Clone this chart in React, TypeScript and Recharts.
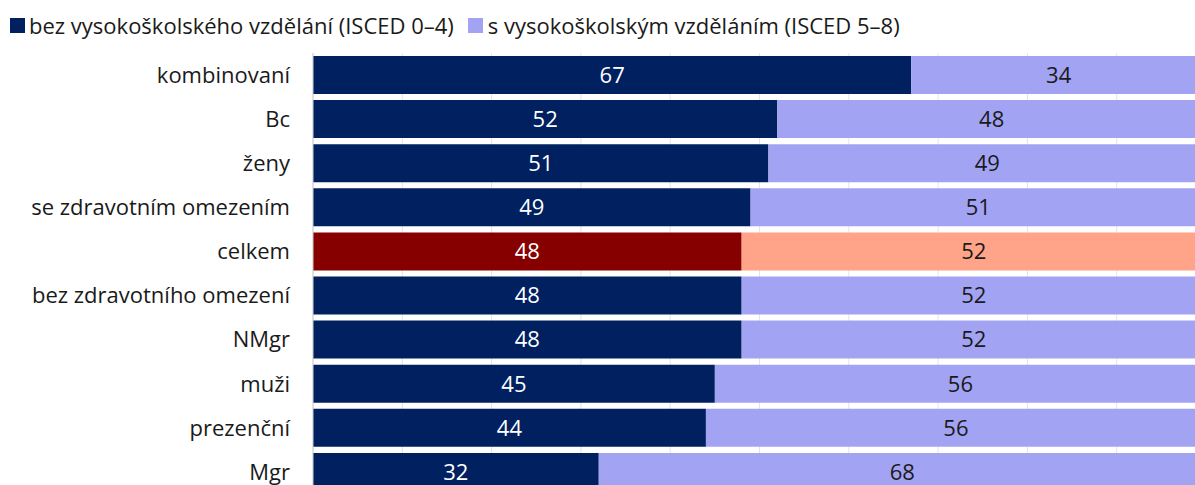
import { BarChart, Bar, XAxis, YAxis, CartesianGrid, Cell, LabelList } from 'recharts';

const categories = [
  'kombinovaní',
  'Bc',
  'ženy',
  'se zdravotním omezením',
  'celkem',
  'bez zdravotního omezení',
  'NMgr',
  'muži',
  'prezenční',
  'Mgr',
];
const withoutDegree = [67, 52, 51, 49, 48, 48, 48, 45, 44, 32];
const withDegree = [34, 48, 49, 51, 52, 52, 52, 56, 56, 68];
const xTicks = [0, 10, 20, 30, 40, 50, 60, 70, 80, 90, 100];

const seriesNames = {
  low: 'bez vysokoškolského vzdělání (ISCED 0–4)',
  high: 's vysokoškolským vzděláním (ISCED 5–8)',
};

const data = categories.map((name, i) => ({
  name,
  low: withoutDegree[i],
  high: withDegree[i],
}));

const FONT = '"Open Sans", sans-serif';
const NAVY = '#002060';
const LAVENDER = '#A3A3F3';
const DARK_RED = '#860000';
const SALMON = '#FFA488';

export default function App() {
  return (
    <div style={{ position: 'fixed', left: 0, top: 0, width: 1195, height: 485, overflow: 'hidden', background: '#fff' }}>
      {/* legend drawn as plain html so it doesn't push the plot down */}
      <div
        style={{
          position: 'absolute',
          left: 10,
          top: 10,
          display: 'flex',
          alignItems: 'center',
          fontFamily: FONT,
          fontSize: 22,
          color: '#1a1a1a',
          whiteSpace: 'nowrap',
        }}
      >
        <span style={{ width: 15, height: 15, background: NAVY, display: 'inline-block', marginRight: 4 }} />
        <span style={{ marginRight: 14 }}>{seriesNames.low}</span>
        <span style={{ width: 15, height: 15, background: LAVENDER, display: 'inline-block', marginRight: 5 }} />
        <span>{seriesNames.high}</span>
      </div>
      <BarChart
        width={1206}
        height={500}
        data={data}
        layout="vertical"
        margin={{ top: 53, right: 0, left: 0, bottom: 6 }}
      >
        <CartesianGrid horizontal={false} stroke="#e4e4e4" />
        <XAxis type="number" domain={[0, 100]} ticks={xTicks} allowDataOverflow hide />
        <YAxis
          type="category"
          dataKey="name"
          width={313}
          tickLine={false}
          tickSize={0}
          tickMargin={23}
          axisLine={{ stroke: '#d0d0d0' }}
          tick={{ fontFamily: FONT, fontSize: 22, fill: '#1a1a1a' }}
          interval={0}
        />
        <Bar dataKey="low" stackId="a" barSize={38} isAnimationActive={false}>
          {data.map((d, i) => (
            <Cell key={`low-${i}`} fill={d.name === 'celkem' ? DARK_RED : NAVY} />
          ))}
          <LabelList dataKey="low" position="center" fill="#ffffff" style={{ fontFamily: FONT, fontSize: 22 }} />
        </Bar>
        <Bar dataKey="high" stackId="a" barSize={38} isAnimationActive={false}>
          {data.map((d, i) => (
            <Cell key={`high-${i}`} fill={d.name === 'celkem' ? SALMON : LAVENDER} />
          ))}
          <LabelList dataKey="high" position="center" fill="#1a1a1a" style={{ fontFamily: FONT, fontSize: 22 }} />
        </Bar>
      </BarChart>
    </div>
  );
}
